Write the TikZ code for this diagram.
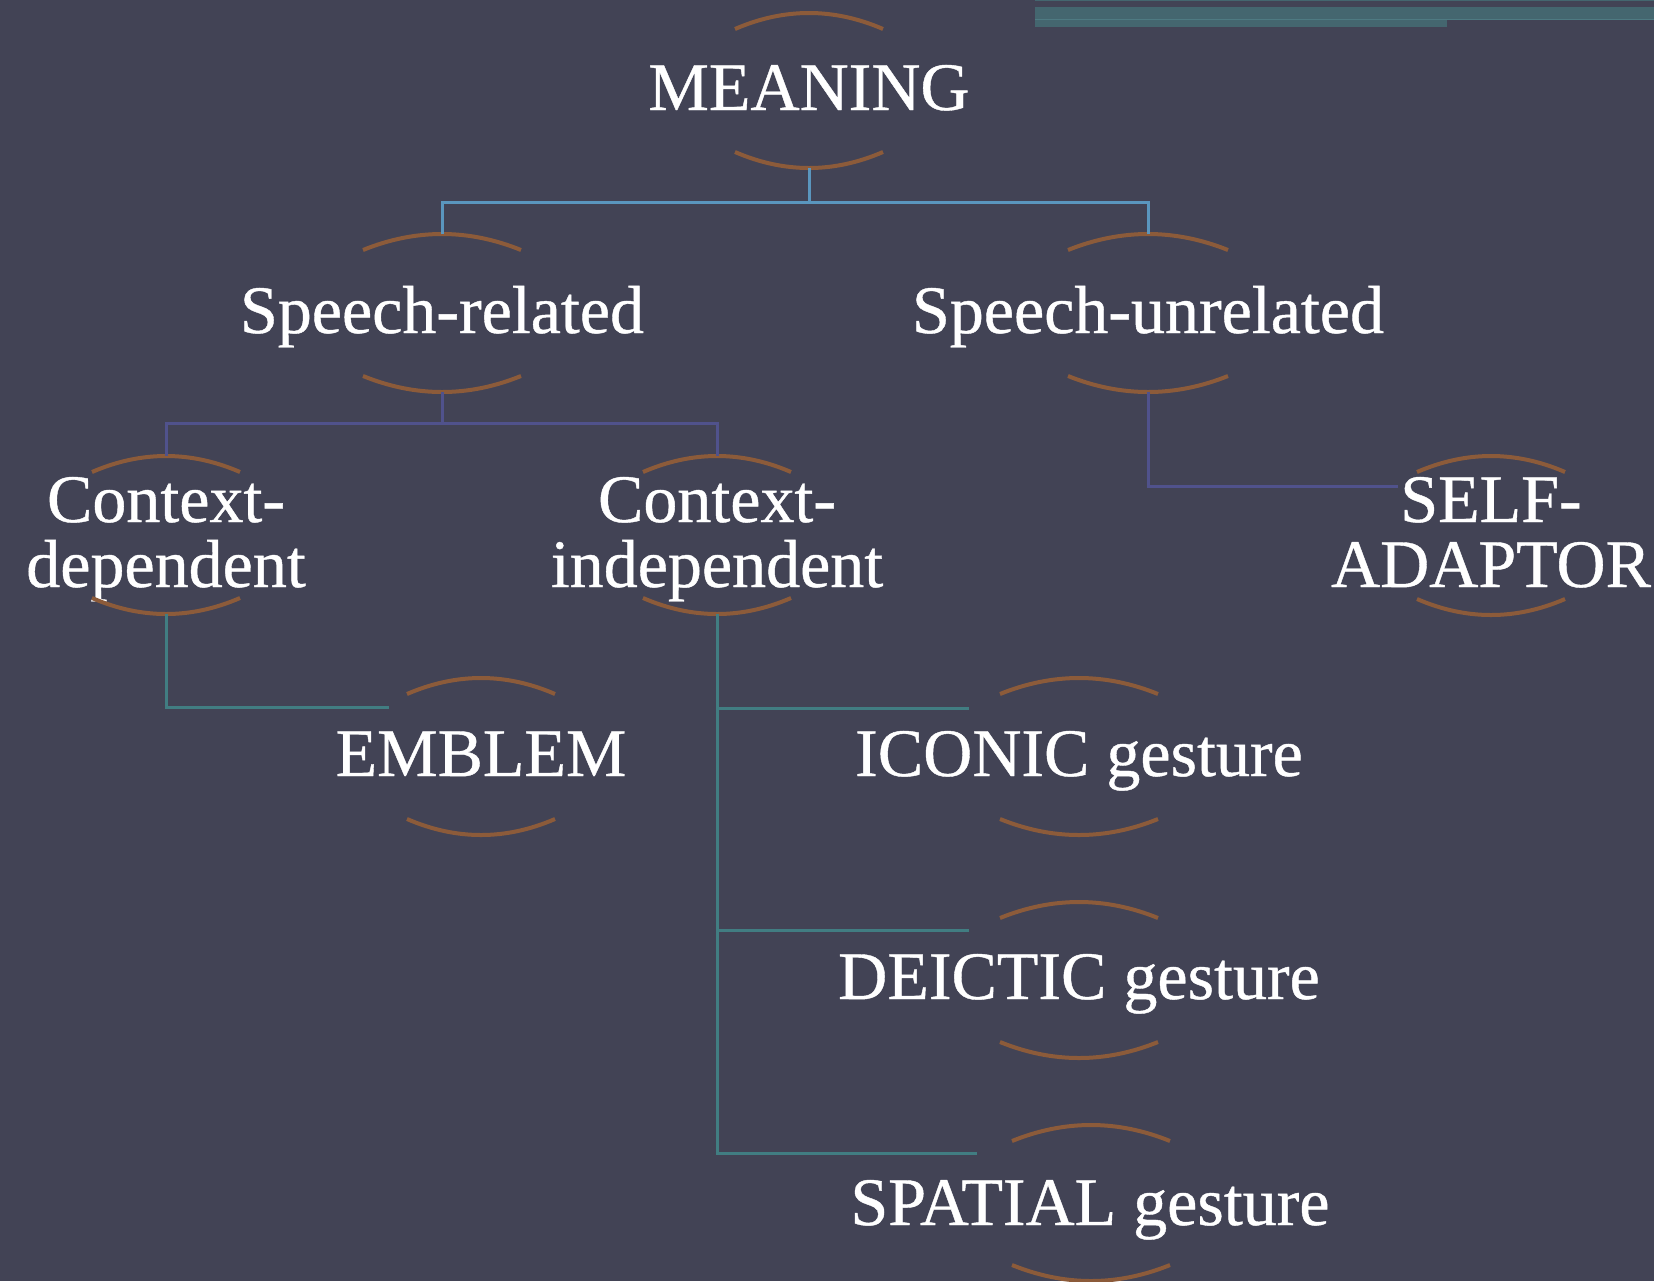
\documentclass[tikz,border=0pt]{standalone}
\usepackage{fontspec}
\setmainfont{Liberation Serif}
\newfontfamily\heavyserif{Liberation Serif}[FakeBold=0.6]
\definecolor{bg}{HTML}{424355}
\definecolor{arcc}{HTML}{8C5B3A}
\definecolor{linea}{HTML}{5A96BE}
\definecolor{lineb}{HTML}{50528C}
\definecolor{linec}{HTML}{417D82}
\definecolor{barc}{HTML}{44666F}
\definecolor{barl}{HTML}{4E7A82}
\newcommand\twoarcs[4]{%
  \draw[arcline] ({#1-#4},{#2+16}) .. controls ({#1-#4/3},{#2-16/3}) and ({#1+#4/3},{#2-16/3}) .. ({#1+#4},{#2+16});
  \draw[arcline] ({#1-#4},{#3-16}) .. controls ({#1-#4/3},{#3+16/3}) and ({#1+#4/3},{#3+16/3}) .. ({#1+#4},{#3-16});
}
\tikzset{
  txt/.style={text=white, font=\heavyserif\fontsize{34}{32.5}\selectfont, inner sep=0pt, anchor=base, align=center},
  arcline/.style={draw=arcc, line width=2pt},
  conna/.style={draw=linea, line width=1.5pt},
  connb/.style={draw=lineb, line width=1.5pt},
  connc/.style={draw=linec, line width=1.5pt},
}
\begin{document}
\begin{tikzpicture}[x=0.5pt,y=-0.5pt]
\fill[bg] (0,0) rectangle (1654,1281);
\useasboundingbox (0,0) rectangle (1654,1281);
% top-right bars
\fill[barc] (1035,0) rectangle (1654,1.2);
\fill[barc] (1035,7) rectangle (1654,19.5);
\fill[barc] (1035,19.5) rectangle (1447,27);
\draw[barl, line width=0.5pt] (1035,19.5) -- (1654,19.5);
% nodes
\node[txt] (meaning) at (809,110) {MEANING};
\node[txt] (srel) at (442,333) {Speech-related};
\node[txt] (sunrel) at (1148,333) {Speech-unrelated};
\node[txt] (cdep) at (166,587) {Context-\\dependent};
\node[txt] (cind) at (717,587) {Context-\\independent};
\node[txt] (self) at (1491,587) {SELF-\\ADAPTOR};
\node[txt] (emblem) at (481,776) {EMBLEM};
\node[txt] (iconic) at (1079,776) {ICONIC gesture};
\node[txt] (deictic) at (1079,999) {DEICTIC gesture};
\node[txt] (spatial) at (1090,1225) {SPATIAL gesture};
% arcs
\twoarcs{809}{13}{168}{74}
\twoarcs{442}{234}{392}{79}
\twoarcs{1148}{234}{392}{80}
\twoarcs{166}{456}{614}{74}
\twoarcs{717}{456}{614}{74}
\twoarcs{1491}{456}{615}{74}
\twoarcs{481}{678}{835}{74}
\twoarcs{1079}{678}{835}{79}
\twoarcs{1079}{902}{1058}{79}
\twoarcs{1091}{1125}{1281}{79}
% anchor coordinates
\coordinate (meaningB) at (809,168);
\coordinate (srelT) at (442,234);
\coordinate (srelB) at (442,392);
\coordinate (sunrelT) at (1148,234);
\coordinate (sunrelB) at (1148,392);
\coordinate (cdepT) at (166,456);
\coordinate (cdepB) at (166,614);
\coordinate (cindT) at (717,456);
\coordinate (cindB) at (717,614);
\coordinate (selfL) at (1398,486);
\coordinate (emblemL) at (389,707);
\coordinate (iconicL) at (969,708);
\coordinate (deicticL) at (969,930);
\coordinate (spatialL) at (977,1153);
% connectors
\draw[conna] (meaningB) -- ++(0,34) -| (srelT);
\draw[conna] (meaningB) -- ++(0,34) -| (sunrelT);
\draw[connb] (srelB) -- ++(0,31) -| (cdepT);
\draw[connb] (srelB) -- ++(0,31) -| (cindT);
\draw[connb] (sunrelB) |- (selfL);
\draw[connc] (cdepB) |- (emblemL);
\draw[connc] (cindB) |- (iconicL);
\draw[connc] (cindB) |- (deicticL);
\draw[connc] (cindB) |- (spatialL);
\end{tikzpicture}
\end{document}
